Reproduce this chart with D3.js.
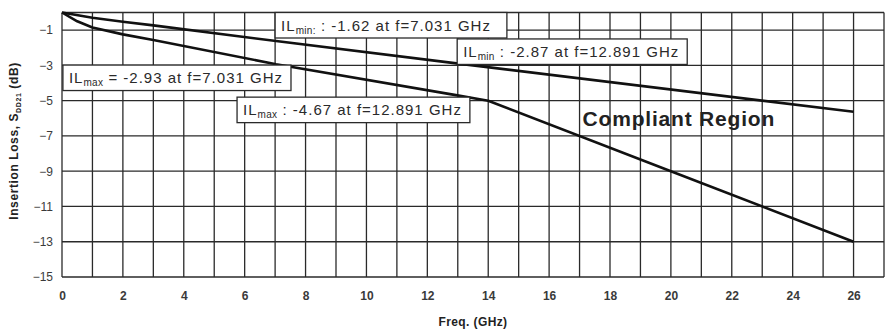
<!DOCTYPE html>
<html>
<head>
<meta charset="utf-8">
<script src="https://cdn.jsdelivr.net/npm/d3@7"></script>
<style>
  body { margin: 0; background: #fff; }
  svg { display: block; font-family: "Liberation Sans", Arial, sans-serif; }
</style>
</head>
<body>
<svg id="chart" width="893" height="333"></svg>
<script>
// insertion loss limit lines
const ilMin = [[0, 0], [1, -0.3], [2, -0.52], [3, -0.73], [7.031, -1.62], [12.891, -2.87], [26, -5.63]];
const ilMax = [[0, 0], [0.5, -0.5], [1, -0.85], [2, -1.24], [3, -1.56], [7.031, -2.93], [12.891, -4.67], [14, -5.0], [20, -9.0], [26, -13.0]];

const xTicks = [0, 2, 4, 6, 8, 10, 12, 14, 16, 18, 20, 22, 24, 26];
const yTicks = [-1, -3, -5, -7, -9, -11, -13, -15];

// annotation boxes: [label, subscript, rest, left freq, top dB, extra right pad]
const notes = [
  ["IL", "min:", " : -1.62 at f=7.031 GHz", 7.0, 0, 12],
  ["IL", "min", " : -2.87 at f=12.891 GHz", 12.98, -1.5, 4],
  ["IL", "max", " = -2.93 at f=7.031 GHz", 0.03, -2.98, 4],
  ["IL", "max", " : -4.67 at f=12.891 GHz", 5.75, -4.8, 4]
];

const width = 893, height = 333;
const margin = { left: 62, top: 12.5, right: 9, bottom: 56 };
const innerWidth = width - margin.left - margin.right;
const innerHeight = height - margin.top - margin.bottom;

const svg = d3.select("#chart");
const g = svg.append("g").attr("transform", `translate(${margin.left}, ${margin.top})`);

const xScale = d3.scaleLinear().domain([0, 27]).range([0, innerWidth]);
const yScale = d3.scaleLinear().domain([0, -15]).range([0, innerHeight]);

// grid
g.append("g")
 .selectAll("line")
 .data(d3.range(0, 28))
 .join("line")
   .attr("x1", d => xScale(d)).attr("x2", d => xScale(d))
   .attr("y1", 0).attr("y2", innerHeight)
   .attr("stroke", "#2a2a2a").attr("stroke-width", 1.3);

g.append("g")
 .selectAll("line")
 .data([0].concat(yTicks))
 .join("line")
   .attr("x1", 0).attr("x2", innerWidth)
   .attr("y1", d => yScale(d)).attr("y2", d => yScale(d))
   .attr("stroke", "#2a2a2a").attr("stroke-width", 1.3);

// axes (labels only)
const xAxis = d3.axisBottom(xScale).tickValues(xTicks).tickSize(0).tickPadding(14).tickFormat(d3.format("d"));
const yAxis = d3.axisLeft(yScale).tickValues(yTicks).tickSize(0).tickPadding(9).tickFormat(d3.format("d"));

g.append("g").attr("transform", `translate(0, ${innerHeight})`).call(xAxis)
 .call(s => s.select(".domain").remove())
 .selectAll("text").attr("font-size", 12).attr("font-weight", "bold").attr("fill", "#3a3a3a")
   .attr("font-family", "Liberation Sans, Arial, sans-serif");
g.append("g").call(yAxis)
 .call(s => s.select(".domain").remove())
 .selectAll("text").attr("font-size", 12).attr("fill", "#3a3a3a")
   .attr("font-family", "Liberation Sans, Arial, sans-serif");

// lines
const line = d3.line().x(d => xScale(d[0])).y(d => yScale(d[1]));
[ilMin, ilMax].forEach(data => {
  g.append("path")
   .attr("d", line(data))
   .attr("fill", "none")
   .attr("stroke", "#111")
   .attr("stroke-width", 2.6)
   .attr("stroke-linejoin", "round");
});

// annotations
notes.forEach(n => {
  const bx = xScale(n[3]), by = yScale(n[4]);
  const box = g.append("g").attr("transform", `translate(${bx}, ${by})`);
  const rect = box.append("rect").attr("fill", "#fff").attr("stroke", "#2a2a2a").attr("stroke-width", 1.3);
  const t = box.append("text").attr("x", 6).attr("y", 18).attr("font-size", 15)
    .attr("letter-spacing", 1.0).attr("fill", "#2a2a2a");
  t.append("tspan").text(n[0]);
  t.append("tspan").attr("font-size", 10).attr("letter-spacing", 0.3).attr("dy", 3).text(n[1]);
  t.append("tspan").attr("dy", -3).text(n[2]);
  const w = t.node().getComputedTextLength();
  rect.attr("width", w + 10 + n[5]).attr("height", 25.5);
});

g.append("text")
 .attr("x", xScale(17.1)).attr("y", yScale(-6.45))
 .attr("font-size", 21).attr("font-weight", "bold").attr("letter-spacing", 0.8).attr("fill", "#222")
 .text("Compliant Region");

// axis titles
svg.append("text")
   .attr("x", margin.left + xScale(13.5)).attr("y", 326)
   .attr("text-anchor", "middle")
   .attr("font-size", 12).attr("font-weight", "bold").attr("letter-spacing", 0.4).attr("fill", "#222")
   .text("Freq. (GHz)");

const yt = svg.append("text")
   .attr("transform", "translate(18, 141) rotate(-90)")
   .attr("text-anchor", "middle")
   .attr("font-size", 12).attr("font-weight", "bold").attr("letter-spacing", 0.6).attr("fill", "#222");
yt.append("tspan").text("Insertion Loss, S");
yt.append("tspan").attr("font-size", 7).attr("dy", 3).text("DD21");
yt.append("tspan").attr("dy", -3).text(" (dB)");
</script>
</body>
</html>
